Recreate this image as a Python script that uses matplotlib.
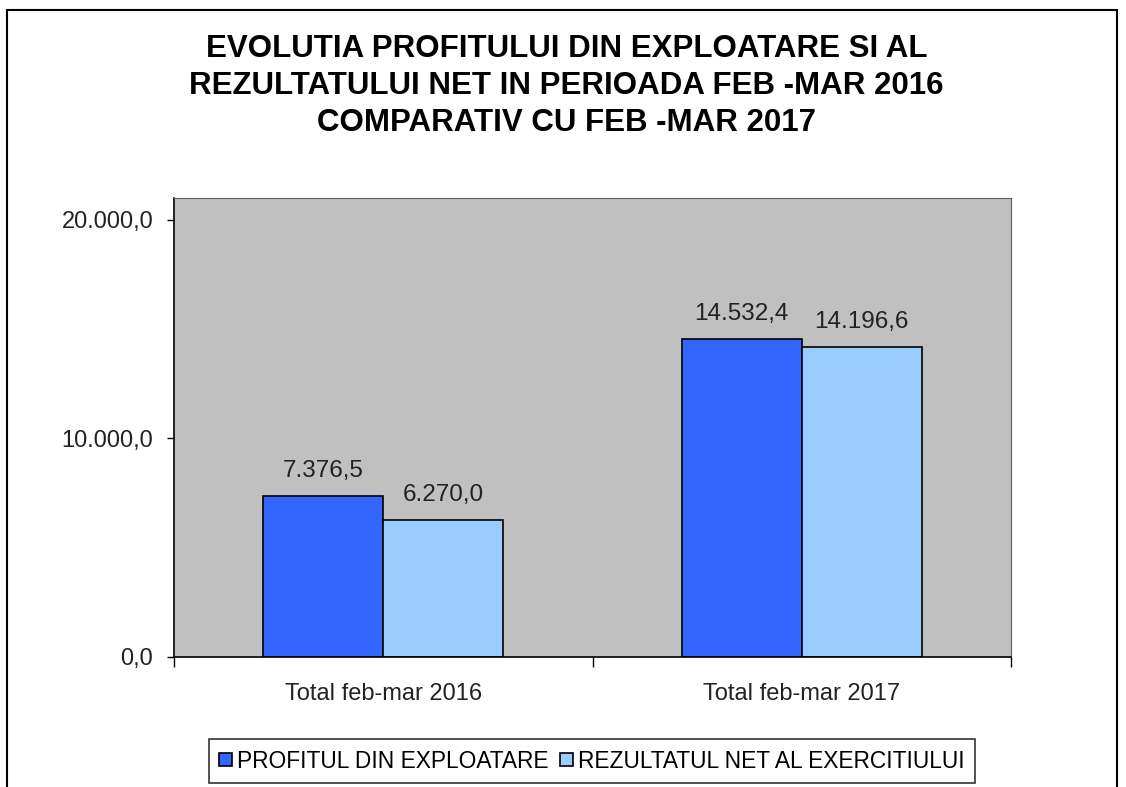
import matplotlib
matplotlib.use('Agg')
import matplotlib.pyplot as plt
import numpy as np
from matplotlib.patches import Rectangle

categories = ['Total feb-mar 2016', 'Total feb-mar 2017']
profit_exploatare = [7376.5, 14532.4]
rezultat_net = [6270.0, 14196.6]
series_names = ['PROFITUL DIN EXPLOATARE', 'REZULTATUL NET AL EXERCITIULUI']
title = ('EVOLUTIA PROFITULUI DIN EXPLOATARE SI AL\n'
         'REZULTATULUI NET IN PERIOADA FEB -MAR 2016\n'
         'COMPARATIV CU FEB -MAR 2017')

plt.rcParams['font.family'] = ['Liberation Sans', 'DejaVu Sans']


def ro_fmt(v):
    # 14532.4 -> "14.532,4"
    s = f'{v:,.1f}'
    return s.replace(',', 'X').replace('.', ',').replace('X', '.')


fig = plt.figure(figsize=(11.26, 7.87), dpi=100)
fig.patches.append(Rectangle((7 / 1126, -0.05), 1110 / 1126, 1.05 - 10 / 787,
                             transform=fig.transFigure, fill=False,
                             edgecolor='black', linewidth=1.5))

ax = fig.add_axes([174 / 1126, 1 - 657 / 787, 837 / 1126, 459 / 787])
ax.set_facecolor('#C0C0C0')

x = np.arange(len(categories))
w = 0.287
b1 = ax.bar(x - w / 2, profit_exploatare, w, color='#3366FF', edgecolor='black',
            linewidth=1.2, label=series_names[0])
b2 = ax.bar(x + w / 2, rezultat_net, w, color='#99CCFF', edgecolor='black',
            linewidth=1.2, label=series_names[1])
for bars in (b1, b2):
    ax.bar_label(bars, labels=[ro_fmt(b.get_height()) for b in bars],
                 padding=10, fontsize=17.5, color='#222222')

ax.set_xlim(-0.5, 1.5)
ax.set_ylim(0, 21000)
ax.set_yticks([0, 10000, 20000])
ax.set_yticklabels([ro_fmt(v) for v in [0, 10000, 20000]], fontsize=17, color='#222222')
ax.set_xticks([-0.5, 0.5, 1.5])
ax.set_xticklabels([])
ax.set_xticks(x, minor=True)
ax.set_xticklabels(categories, minor=True, fontsize=17, color='#222222')
ax.tick_params(axis='x', which='minor', length=0, pad=19)
ax.tick_params(axis='x', which='major', length=7, width=1)
ax.tick_params(axis='y', length=5, width=1, pad=10)
for side in ['top', 'right']:
    ax.spines[side].set_color('#606060')
for side in ['left', 'bottom']:
    ax.spines[side].set_linewidth(1.2)

fig.text(0.503, 1 - 34 / 787, title, ha='center', va='top', fontsize=22.5,
         fontweight='bold', linespacing=1.3)

leg = fig.legend(loc='center', bbox_to_anchor=(592 / 1126, 1 - 761 / 787),
                 ncol=2, fontsize=16.4, frameon=True, fancybox=False,
                 handlelength=0.55, handleheight=0.55, handletextpad=0.25,
                 columnspacing=0.5, borderpad=0.45, borderaxespad=0)
leg.get_frame().set_edgecolor('black')
leg.get_frame().set_linewidth(1.2)

fig.savefig('out.png', dpi=100)
